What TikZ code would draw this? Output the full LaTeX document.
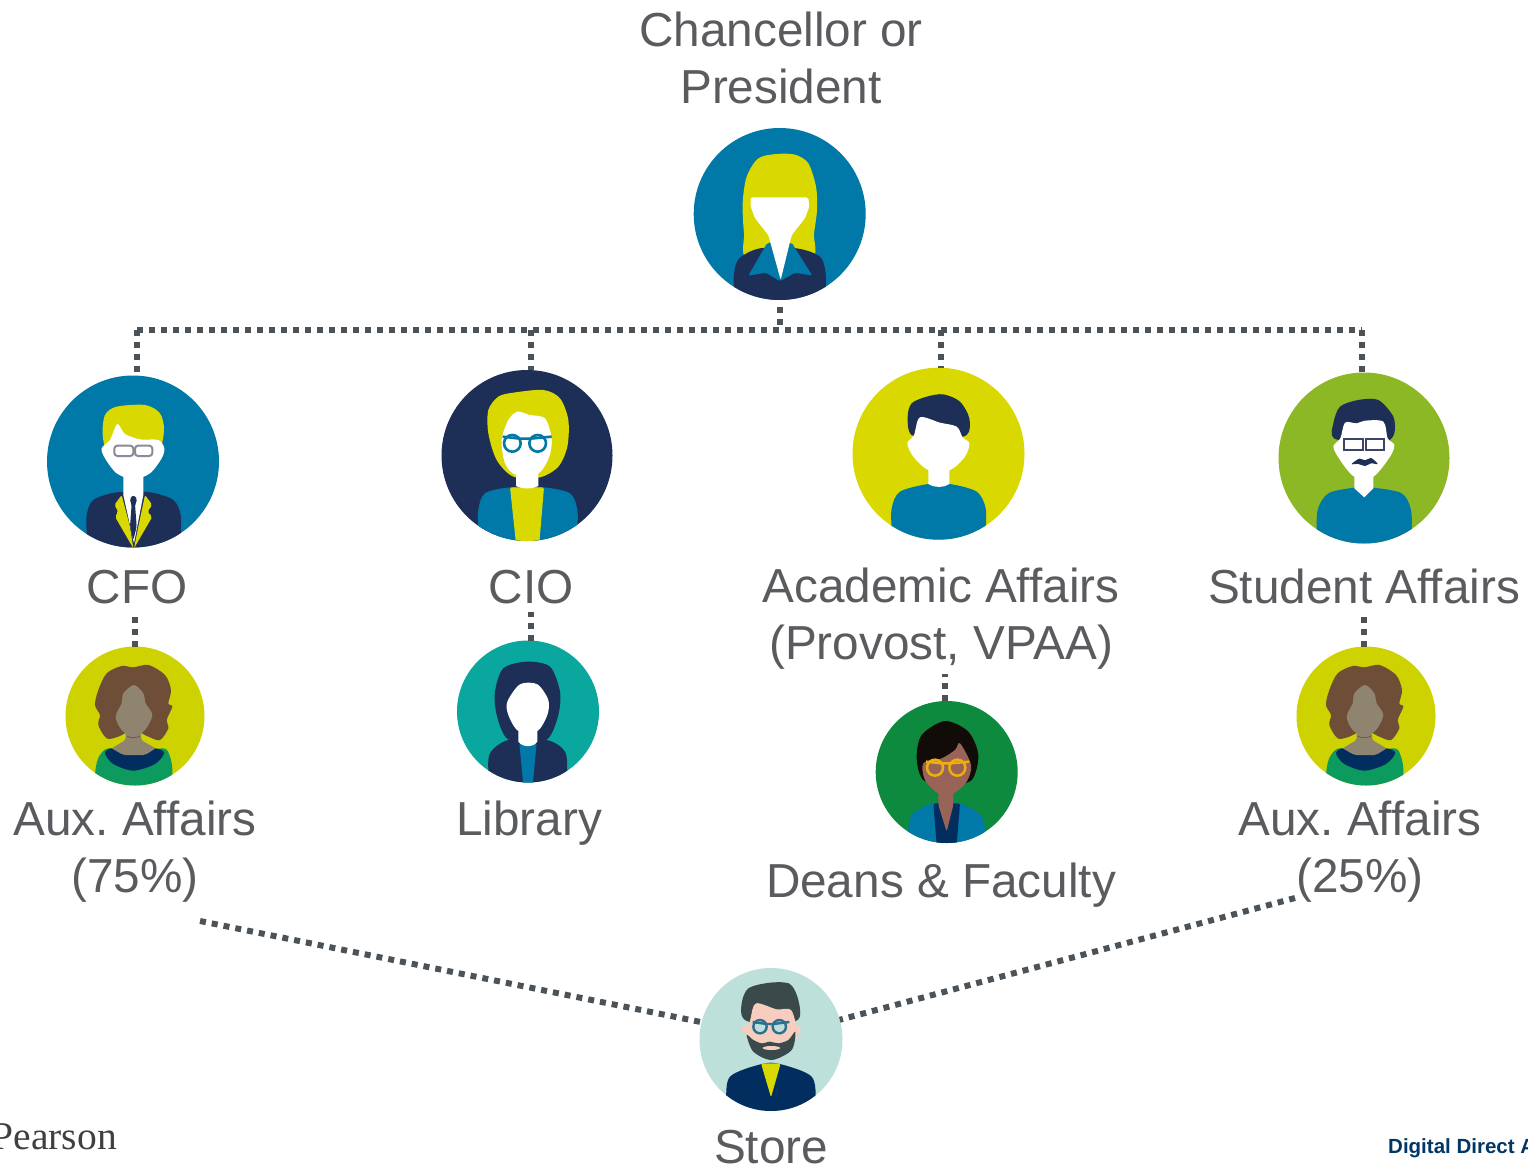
\documentclass[tikz,border=0pt]{standalone}
\usepackage{fontspec}
\setmainfont{Liberation Sans}
\newfontfamily\pearsonfont{Liberation Serif}
\definecolor{txt}{HTML}{595B5E}
\definecolor{cline}{HTML}{4C5358}
\definecolor{cblue}{HTML}{0079A8}
\definecolor{cnavy}{HTML}{1D2F57}
\definecolor{cyel}{HTML}{D9D800}
\definecolor{cyelb}{HTML}{CDD200}
\definecolor{clime}{HTML}{8CB825}
\definecolor{cteal}{HTML}{0AA79E}
\definecolor{cgreen}{HTML}{0D8A3E}
\definecolor{cpale}{HTML}{BEE0DA}
\definecolor{cbrown}{HTML}{6E4E37}
\definecolor{ctan}{HTML}{8F8470}
\definecolor{cemer}{HTML}{0C9A5F}
\definecolor{cdeep}{HTML}{012E5E}
\definecolor{cslate}{HTML}{3A4A4A}
\definecolor{cskin}{HTML}{F7CDBF}
\definecolor{cbrsk}{HTML}{9A6358}
\definecolor{cgold}{HTML}{EBB010}
\definecolor{cgrey}{HTML}{8A8A98}
\definecolor{cspec}{HTML}{3C4468}
\definecolor{cglass}{HTML}{2D6F8F}
\newcommand\blob[2]{\fill[#1] plot[smooth cycle,tension=.5] coordinates {#2};}
\newcommand\poly[2]{\fill[#1,rounded corners=2pt] #2 -- cycle;}
\newcommand\auxfig[1]{%
  \begin{scope}
  \clip (#1,716) circle[radius=69.5];
  \begin{scope}[shift={(#1-80,640)},x=.33333pt,y=-.33333pt]
  \blob{cemer}{(120,420) (122,385) (132,350) (160,325) (235,340) (325,325) (345,350) (352,385) (352,420) (352,480) (120,480)}
  \blob{cdeep}{(150,340) (170,325) (205,340) (270,340) (300,325) (328,338) (300,372) (235,392) (175,372)}
  \blob{cbrown}{(155,295) (130,255) (135,225) (120,195) (130,150) (155,100) (200,78) (235,82) (280,75) (330,105) (348,150) (340,190) (352,200) (335,240) (340,265) (315,300) (280,290) (235,270) (190,290)}
  \poly{ctan}{(212,270) -- (258,270) -- (258,300) -- (302,325) -- (270,345) -- (205,345) -- (170,325) -- (212,300)}
  \blob{ctan}{(237,135) (265,160) (272,190) (292,225) (270,270) (235,290) (200,270) (182,230) (200,190) (205,160)}
  \draw[cbrown,line width=.6pt] (215,288) .. controls (228,295) and (242,295) .. (255,288);
  \end{scope}
  \end{scope}}
\tikzset{
  lbl/.style={font=\fontsize{47.7}{57}\selectfont\frenchspacing,text=txt,inner sep=0pt,outer sep=0pt,align=center},
  conn/.style={draw=cline,line width=6pt,dash pattern=on 6pt off 6pt},
  ava/.style={circle,inner sep=0pt,outer sep=0pt}
}
\begin{document}
\begin{tikzpicture}[x=1pt,y=-1pt]
\useasboundingbox (0,0) rectangle (1528,1166);
\fill[white] (0,0) rectangle (1528,1166);

% avatar discs
\node[ava,fill=cblue,minimum size=172pt] (top) at (779.7,214) {};
\node[ava,fill=cblue,minimum size=172pt] (cfo) at (133,461.5) {};
\node[ava,fill=cnavy,minimum size=171pt] (cio) at (527,455.5) {};
\node[ava,fill=cyel,minimum size=172pt] (acad) at (938.5,453.7) {};
\node[ava,fill=clime,minimum size=171pt] (stud) at (1364,458) {};
\node[ava,fill=cyelb,minimum size=139pt] (auxl) at (135,716) {};
\node[ava,fill=cteal,minimum size=142pt] (lib) at (528,711.5) {};
\node[ava,fill=cgreen,minimum size=142pt] (dean) at (946.7,772) {};
\node[ava,fill=cyelb,minimum size=139pt] (auxr) at (1366,716) {};
\node[ava,fill=cpale,minimum size=143pt] (store) at (771,1039.5) {};

% Chancellor
\begin{scope}
\clip (779.7,214) circle[radius=86];
\begin{scope}[shift={(680,120)},x=.33333pt,y=-.33333pt]
\blob{cyel}{(205,420) (192,340) (188,250) (200,170) (235,115) (290,102) (345,104) (385,130) (408,200) (411,270) (402,340) (392,420)}
\blob{cnavy}{(162,520) (162,460) (178,415) (240,385) (350,385) (420,410) (437,460) (437,520) (437,600) (162,600)}
\poly{cblue}{(262,368) -- (205,467) -- (258,458) -- (300,484) -- (345,458) -- (397,467) -- (335,368)}
\poly{white}{(212,232) -- (385,232) -- (388,260) -- (375,295) -- (335,345) -- (302,480) -- (265,345) -- (225,295) -- (212,260)}
\end{scope}
\end{scope}

% CFO
\begin{scope}
\clip (133,461.5) circle[radius=86];
\begin{scope}[shift={(30,360)},x=.33333pt,y=-.33333pt]
\blob{cyel}{(235,275) (218,225) (225,165) (260,140) (345,135) (390,160) (402,210) (385,270) (310,280)}
\blob{white}{(262,192) (285,222) (330,238) (385,240) (403,265) (395,295) (360,340) (310,358) (260,340) (225,295) (215,265) (240,240)}
\blob{cnavy}{(170,530) (170,465) (190,420) (260,397) (360,397) (430,420) (452,465) (452,530) (452,610) (170,610)}
\fill[white] (280,340) -- (340,340) -- (340,405) -- (312,550) -- (280,405) -- cycle;
\poly{cyel}{(275,405) -- (253,435) -- (265,455) -- (255,470) -- (310,565) -- (300,500)}
\poly{cyel}{(345,405) -- (367,435) -- (352,455) -- (367,470) -- (312,565) -- (325,500)}
\poly{cnavy}{(310,405) -- (298,418) -- (305,432) -- (300,500) -- (310,540) -- (320,500) -- (315,432) -- (323,418)}
\draw[cgrey,line width=2pt,rounded corners=3pt] (253,257) rectangle (310,288) (315,257) rectangle (367,288);
\end{scope}
\end{scope}

% CIO
\begin{scope}
\clip (527,455.5) circle[radius=85.5];
\begin{scope}[shift={(430,360)},x=.33333pt,y=-.33333pt]
\blob{cyel}{(250,350) (200,300) (175,220) (175,150) (205,110) (250,98) (340,90) (390,115) (415,180) (412,260) (385,320) (330,352)}
\blob{cblue}{(145,520) (145,450) (165,400) (240,382) (340,382) (420,400) (442,450) (442,520) (442,600) (145,600)}
\poly{cyel}{(240,382) -- (342,382) -- (328,550) -- (258,550)}
\fill[white] (258,320) -- (325,320) -- (325,378) .. controls (305,388) and (278,388) .. (258,378) -- cycle;
\blob{white}{(262,155) (300,165) (345,175) (365,235) (358,290) (325,340) (258,345) (225,310) (215,240) (235,180)}
\draw[cblue,line width=2.6pt] (247,250) circle[radius=25] (323,250) circle[radius=25];
\draw[cblue,line width=2.6pt] (218,230) -- (270,236) -- (300,236) -- (365,230);
\end{scope}
\end{scope}

% Academic
\begin{scope}
\clip (938.5,453.7) circle[radius=86];
\begin{scope}[shift={(840,360)},x=.33333pt,y=-.33333pt]
\blob{cnavy}{(215,225) (203,170) (215,130) (260,110) (310,103) (360,125) (388,175) (380,225) (300,240)}
\blob{cblue}{(155,520) (155,445) (180,395) (265,372) (330,372) (410,395) (437,445) (437,520) (437,600) (155,600)}
\fill[white] (265,310) -- (328,310) -- (328,372) .. controls (310,384) and (285,384) .. (265,372) -- cycle;
\blob{white}{(240,172) (300,188) (350,200) (368,232) (388,250) (375,290) (330,330) (265,330) (220,290) (202,250) (222,225)}
\end{scope}
\end{scope}

% Student
\begin{scope}
\clip (1364,458) circle[radius=85.5];
\begin{scope}[shift={(1265,360)},x=.33333pt,y=-.33333pt]
\blob{cnavy}{(207,235) (205,190) (225,140) (280,120) (340,120) (385,170) (388,220) (365,245) (300,250)}
\blob{cblue}{(155,530) (158,450) (190,400) (268,383) (325,383) (410,400) (438,450) (440,530) (440,610) (155,610)}
\fill[white] (268,330) -- (325,330) -- (325,385) -- (298,412) -- (268,385) -- cycle;
\blob{white}{(240,188) (275,190) (300,182) (355,185) (368,235) (388,255) (375,290) (325,350) (268,350) (225,300) (205,260) (226,235)}
\blob{cnavy}{(260,312) (283,296) (300,301) (318,294) (338,312) (318,310) (300,318) (280,312)}
\draw[cspec,line width=1.8pt] (238,236) rectangle (295,270) (302,236) rectangle (357,270);
\end{scope}
\end{scope}

% Aux figures
\auxfig{135}
\auxfig{1366}

% Library
\begin{scope}
\clip (528,711.5) circle[radius=71];
\begin{scope}[shift={(450,635)},x=.33333pt,y=-.33333pt]
\blob{cnavy}{(170,310) (140,240) (135,170) (160,100) (230,80) (300,95) (330,170) (325,240) (295,310) (235,325)}
\blob{cnavy}{(115,420) (120,355) (175,315) (290,315) (345,350) (352,420) (352,490) (115,490)}
\poly{cblue}{(208,325) -- (260,325) -- (248,450) -- (220,450)}
\fill[white] (205,270) -- (262,270) -- (262,320) .. controls (250,338) and (218,338) .. (205,320) -- cycle;
\blob{white}{(210,148) (262,148) (295,195) (292,240) (262,288) (205,288) (175,240) (172,200)}
\end{scope}
\end{scope}

% Deans
\begin{scope}
\clip (946.7,772) circle[radius=71];
\begin{scope}[shift={(865,695)},x=.33333pt,y=-.33333pt]
\blob{black!85!cbrown}{(175,255) (155,190) (170,120) (240,78) (310,110) (340,180) (320,255) (250,270)}
\blob{cblue}{(128,430) (140,360) (205,325) (285,325) (350,365) (362,430) (362,490) (128,490)}
\poly{cdeep}{(205,325) -- (285,325) -- (275,450) -- (215,450)}
\poly{cbrsk}{(220,280) -- (265,280) -- (265,330) -- (245,410) -- (220,330)}
\blob{cbrsk}{(175,205) (230,190) (270,165) (285,145) (318,210) (305,260) (265,295) (220,295) (180,255)}
\draw[cgold,line width=2.5pt] (210,218) circle[radius=24] (277,218) circle[radius=24];
\draw[cgold,line width=2.5pt] (183,200) -- (232,205) -- (255,205) -- (313,200);
\end{scope}
\end{scope}

% Store
\begin{scope}
\clip (771,1039.5) circle[radius=71.5];
\begin{scope}[shift={(690,960)},x=.33333pt,y=-.33333pt]
\blob{cdeep}{(108,430) (120,350) (215,312) (270,312) (365,350) (378,430) (378,490) (108,490)}
\poly{cyel}{(213,310) -- (272,310) -- (243,412)}
\fill[cskin] (168,207) circle[radius=13] (320,207) circle[radius=13];
\blob{cslate}{(162,178) (155,130) (175,85) (240,68) (300,72) (325,120) (325,178) (245,200)}
\blob{cskin}{(198,130) (260,148) (305,152) (318,240) (240,285) (172,240) (182,175)}
\blob{cslate}{(170,225) (190,240) (215,250) (240,245) (265,250) (295,240) (316,215) (305,270) (245,300) (190,275)}
\fill[cskin] (244,264) ellipse[x radius=26,y radius=6];
\fill[cpale] (210,200) circle[radius=20] (268,200) circle[radius=20];
\draw[cglass,line width=2.4pt] (210,200) circle[radius=20] (268,200) circle[radius=20];
\draw[cglass,line width=2.4pt] (188,186) -- (230,192) -- (250,192) -- (298,186);
\end{scope}
\end{scope}

% labels
\node[lbl] (lchan) at (781,58) {Chancellor or\\President};
\node[lbl,anchor=base] (lcfo) at (137,603) {CFO};
\node[lbl,anchor=base] (lcio) at (531,603) {CIO};
\node[lbl] (lacad) at (941,619) {Academic Affairs\\(Provost, VPAA)};
\node[lbl,anchor=base] (lstud) at (1364,603) {Student Affairs};
\node[lbl] (lauxl) at (135,852) {Aux. Affairs\\(75\%)};
\node[lbl,anchor=base] (llib) at (529,835) {Library};
\node[lbl,anchor=base] (ldean) at (941,897) {Deans \& Faculty};
\node[lbl] (lauxr) at (1360,852) {Aux. Affairs\\(25\%)};
\node[lbl,anchor=base] (lstore) at (771,1163) {Store};
\node[anchor=base east,inner sep=0pt,font=\pearsonfont\fontsize{39.5}{40}\selectfont,text=black!75] (pearson) at (117,1149) {Pearson};
\node[anchor=base west,inner sep=0pt,font=\bfseries\fontsize{20.5}{22}\selectfont,text=cdeep!90!cblue] (digital) at (1388,1153) {Digital Direct A};

% connectors
\coordinate (busl) at (137,330);
\coordinate (busc) at (531,330);
\coordinate (busa) at (941,330);
\coordinate (busr) at (1362,330);
\coordinate (bustop) at (780,330);
\coordinate (aend) at (200,921);
\coordinate (bend) at (1295,898);
\draw[conn,shorten <=7pt] (top.south -| bustop) -- (bustop);
\draw[conn] (busl) -- (busr);
\draw[conn] (busl) -- (busl |- cfo.north);
\draw[conn] (busc) -- (busc |- cio.north);
\draw[conn] (busa) -- (busa |- acad.north);
\draw[conn] (busr) -- (busr |- stud.north);
\draw[conn] (auxl.north) -- (auxl.north |- 0,615);
\draw[conn] (busc |- lib.north) -- (busc |- 0,612);
\draw[conn] (dean.north -| lacad) ++(4,0) -- ++(0,-27);
\draw[conn] (stud.south |- auxr.north) -- (stud.south |- 0,613);
\draw[conn] (aend) -- (store.166);
\draw[conn] (bend) -- (store.16);
\end{tikzpicture}
\end{document}
